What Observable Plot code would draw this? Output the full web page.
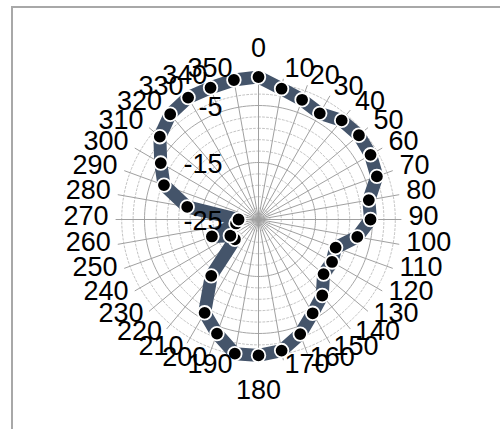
<!DOCTYPE html>
<html>
<head>
<meta charset="utf-8">
<script src="https://cdn.jsdelivr.net/npm/d3@7"></script>
<script src="https://cdn.jsdelivr.net/npm/@observablehq/plot@0.6"></script>
<style>
  html, body { margin: 0; padding: 0; width: 500px; height: 429px; overflow: hidden; background: #fff; }
  #frame { position: absolute; left: 11px; top: 6px; width: 600px; height: 600px; border: 2px solid #a8a8a8; }
  #chart { position: absolute; left: 0; top: 0; }
</style>
</head>
<body>
<div id="frame"></div>
<div id="chart"></div>
<script>
// ---- data ----
const angleLabels = ["0","10","20","30","40","50","60","70","80","90","100","110","120","130","140","150","160","170",
                     "180","190","200","210","220","230","240","250","260","270","280","290","300","310","320","330","340","350"];
const angles = [0,10,20,30,40,50,60,70,80,90,100,110,120,130,140,150,160,170,
                180,190,200,210,220,230,240,250,260,270,280,290,300,310,320,330,340,350];
const values = [0, -1.7, -2.65, -3.5, -2.3, -2.0, -2.3, -2.9, -5.35, -5.35, -7.4, -10.6, -10.1, -10.1, -7.6, -6.0, -3.6, -1.65,
                -1.15, -1.1, -3.7, -6.1, -12.1, -19.6, -19.3, -16.3, -21, -21.5, -12.3, -7.35, -5.2, -2.4, -0.9, -0.3, -0.4, -0.15];
const radialTicks = [-25, -15, -5];
const radialTickLabels = ["-25", "-15", "-5"];
const minorRings = [-23, -21, -19, -17, -13, -11, -9, -7, -3, -1];
const majorRings = [-15, -5];
const rMin = -25, rMax = 0;

// ---- geometry helpers ----
const W = 500, H = 429;
const cx = 258, cy = 219;            // centre in pixels
const pxPerUnit = 5.7;               // radial scale
const rad = d => d * Math.PI / 180;
const pol = (a, v) => { const r = v - rMin; return {x: r * Math.sin(rad(a)), y: r * Math.cos(rad(a))}; };

const pts = angles.map((a, i) => ({...pol(a, values[i]), a, v: values[i]}));

const ringPts = (v) => d3.range(0, 361, 2).map(a => ({...pol(a, v), ring: v}));
const minorData = minorRings.flatMap(ringPts);
const majorData = majorRings.flatMap(ringPts);
const spokes = angles.flatMap(a => [{...pol(a, rMin), a}, {...pol(a, rMax), a}]);

const labelV = rMax + 7.5 / pxPerUnit;
const lab = angles.map((a, i) => ({...pol(a, labelV), a, t: angleLabels[i]}));
const labRight = lab.filter(d => d.a > 0 && d.a < 180);
const labLeft = lab.filter(d => d.a > 180);
const labTop = lab.filter(d => d.a === 0);
const labBottom = lab.filter(d => d.a === 180);

const radLab = radialTicks.map((v, i) => ({x: -36 / pxPerUnit, y: v - rMin, t: radialTickLabels[i]}));

const font = "'Liberation Sans', Arial, sans-serif";
const fs = 27;

const chart = Plot.plot({
  width: W, height: H,
  marginTop: 0, marginRight: 0, marginBottom: 0, marginLeft: 0,
  x: {domain: [-cx / pxPerUnit, (W - cx) / pxPerUnit], axis: null},
  y: {domain: [-(H - cy) / pxPerUnit, cy / pxPerUnit], axis: null},
  style: {background: "transparent", fontFamily: font},
  marks: [
    Plot.line(minorData, {x: "x", y: "y", z: "ring", stroke: "#c4c4c4", strokeWidth: 1, strokeDasharray: "2,2"}),
    Plot.line(majorData, {x: "x", y: "y", z: "ring", stroke: "#a6a6a6", strokeWidth: 1}),
    Plot.line(spokes, {x: "x", y: "y", z: "a", stroke: "#a0a0a0", strokeWidth: 1}),
    Plot.line(pts, {x: "x", y: "y", curve: "linear-closed", stroke: "#44546a", strokeWidth: 13, strokeLinejoin: "round"}),
    Plot.text(radLab, {x: "x", y: "y", text: "t", textAnchor: "end", lineAnchor: "middle", dy: 2, fontSize: fs, fill: "#000"}),
    Plot.dot(pts, {x: "x", y: "y", r: 6.8, fill: "#000", stroke: "#fff", strokeWidth: 1.8}),
    Plot.text(labRight, {x: "x", y: "y", text: "t", textAnchor: "start", lineAnchor: "middle", dy: -3, fontSize: fs, fill: "#000"}),
    Plot.text(labLeft, {x: "x", y: "y", text: "t", textAnchor: "end", lineAnchor: "middle", dy: -3, fontSize: fs, fill: "#000"}),
    Plot.text(labTop, {x: "x", y: "y", text: "t", textAnchor: "middle", lineAnchor: "middle", dy: -21, fontSize: fs, fill: "#000"}),
    Plot.text(labBottom, {x: "x", y: "y", text: "t", textAnchor: "middle", lineAnchor: "middle", dy: 21, fontSize: fs, fill: "#000"})
  ]
});
document.getElementById("chart").appendChild(chart);
</script>
</body>
</html>
